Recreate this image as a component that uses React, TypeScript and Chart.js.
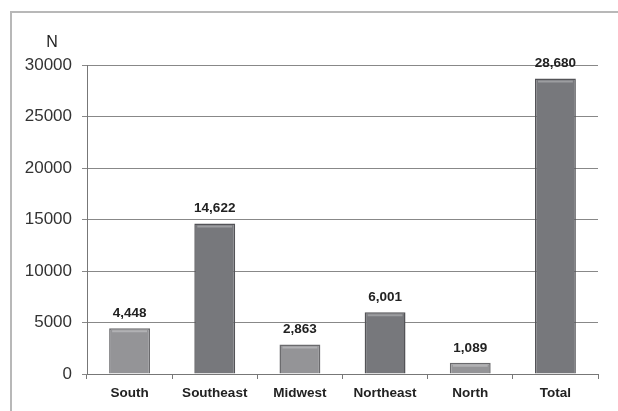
import React, { useEffect, useRef } from "react";
import { Chart, registerables } from "chart.js";

Chart.register(...registerables);

const regions = ["South", "Southeast", "Midwest", "Northeast", "North", "Total"];
const counts = [4448, 14622, 2863, 6001, 1089, 28680];
const yTicks = [0, 5000, 10000, 15000, 20000, 25000, 30000];
const axisLabel = "N";

const lightFill = "#949497";
const darkFill = "#77787c";
const barFills = ["light", "dark", "light", "dark", "light", "dark"].map((k) =>
  k === "light" ? lightFill : darkFill
);
const barBorders = barFills.map((c) => (c === lightFill ? "#6a6a6d" : "#535357"));

const fmt = (v: number) => v.toLocaleString("en-US");

// Draws the value above each bar plus a light bevel line along each bar's top.
const barDecor = {
  id: "barDecor",
  afterDatasetsDraw(chart: any) {
    const ctx = chart.ctx;
    const meta = chart.getDatasetMeta(0);
    ctx.save();
    meta.data.forEach((bar: any, i: number) => {
      const half = bar.width / 2;
      // bevel highlight
      ctx.strokeStyle = "rgba(255,255,255,0.28)";
      ctx.lineWidth = 2;
      ctx.beginPath();
      ctx.moveTo(bar.x - half + 3, bar.y + 3);
      ctx.lineTo(bar.x + half - 3, bar.y + 3);
      ctx.stroke();
      // value label
      ctx.fillStyle = "#222";
      ctx.font = "bold 13.5px 'Liberation Sans', Arial, sans-serif";
      ctx.textAlign = "center";
      ctx.textBaseline = "middle";
      ctx.fillText(fmt(counts[i]), bar.x, bar.y - 15);
    });
    // axis caption above the value axis
    ctx.fillStyle = "#222";
    ctx.font = "16px 'Liberation Sans', Arial, sans-serif";
    ctx.textAlign = "center";
    ctx.textBaseline = "middle";
    ctx.fillText(axisLabel, 52, 43);
    ctx.restore();
  },
};

export default function App() {
  const canvasRef = useRef<HTMLCanvasElement | null>(null);

  useEffect(() => {
    if (!canvasRef.current) return;
    const chart = new Chart(canvasRef.current, {
      type: "bar",
      data: {
        labels: regions,
        datasets: [
          {
            data: counts,
            backgroundColor: barFills,
            borderColor: barBorders,
            borderWidth: 1.5,
            barPercentage: 0.48,
            categoryPercentage: 1,
          },
        ],
      },
      options: {
        animation: false,
        responsive: false,
        devicePixelRatio: 1,
        layout: { padding: { left: 0, right: 20, top: 65, bottom: 0 } },
        plugins: {
          legend: { display: false },
          tooltip: { enabled: false },
        },
        scales: {
          x: {
            afterFit: (scale: any) => {
              scale.height = 37;
            },
            grid: {
              display: true,
              offset: true,
              drawOnChartArea: false,
              drawTicks: true,
              tickLength: 5,
              color: "#777",
            },
            border: { display: true, color: "#777", width: 1 },
            ticks: {
              color: "#222",
              font: { family: "'Liberation Sans', Arial, sans-serif", size: 13.5, weight: "bold" },
              padding: 6,
            },
          },
          y: {
            min: 0,
            max: 30000,
            afterFit: (scale: any) => {
              scale.width = 87;
            },
            afterBuildTicks: (scale: any) => {
              scale.ticks = yTicks.map((v) => ({ value: v }));
            },
            grid: {
              color: "#888",
              lineWidth: 1,
              tickLength: 5,
              drawTicks: true,
            },
            border: { display: true, color: "#777", width: 1 },
            ticks: {
              color: "#333",
              font: { family: "'Liberation Sans', Arial, sans-serif", size: 17 },
              padding: 10,
              callback: (v: any) => String(v),
            },
          },
        },
      },
      plugins: [barDecor],
    });
    return () => chart.destroy();
  }, []);

  return (
    <div
      style={{
        position: "fixed",
        left: 0,
        top: 0,
        width: 618,
        height: 411,
        background: "#fff",
        overflow: "hidden",
      }}
    >
      <div
        style={{
          position: "absolute",
          left: 10,
          top: 11,
          right: 0,
          bottom: 0,
          borderLeft: "2px solid #b8b8b8",
          borderTop: "2px solid #b8b8b8",
        }}
      />
      <canvas
        ref={canvasRef}
        width={618}
        height={411}
        style={{ position: "absolute", left: 0, top: 0, width: 618, height: 411 }}
      />
    </div>
  );
}
